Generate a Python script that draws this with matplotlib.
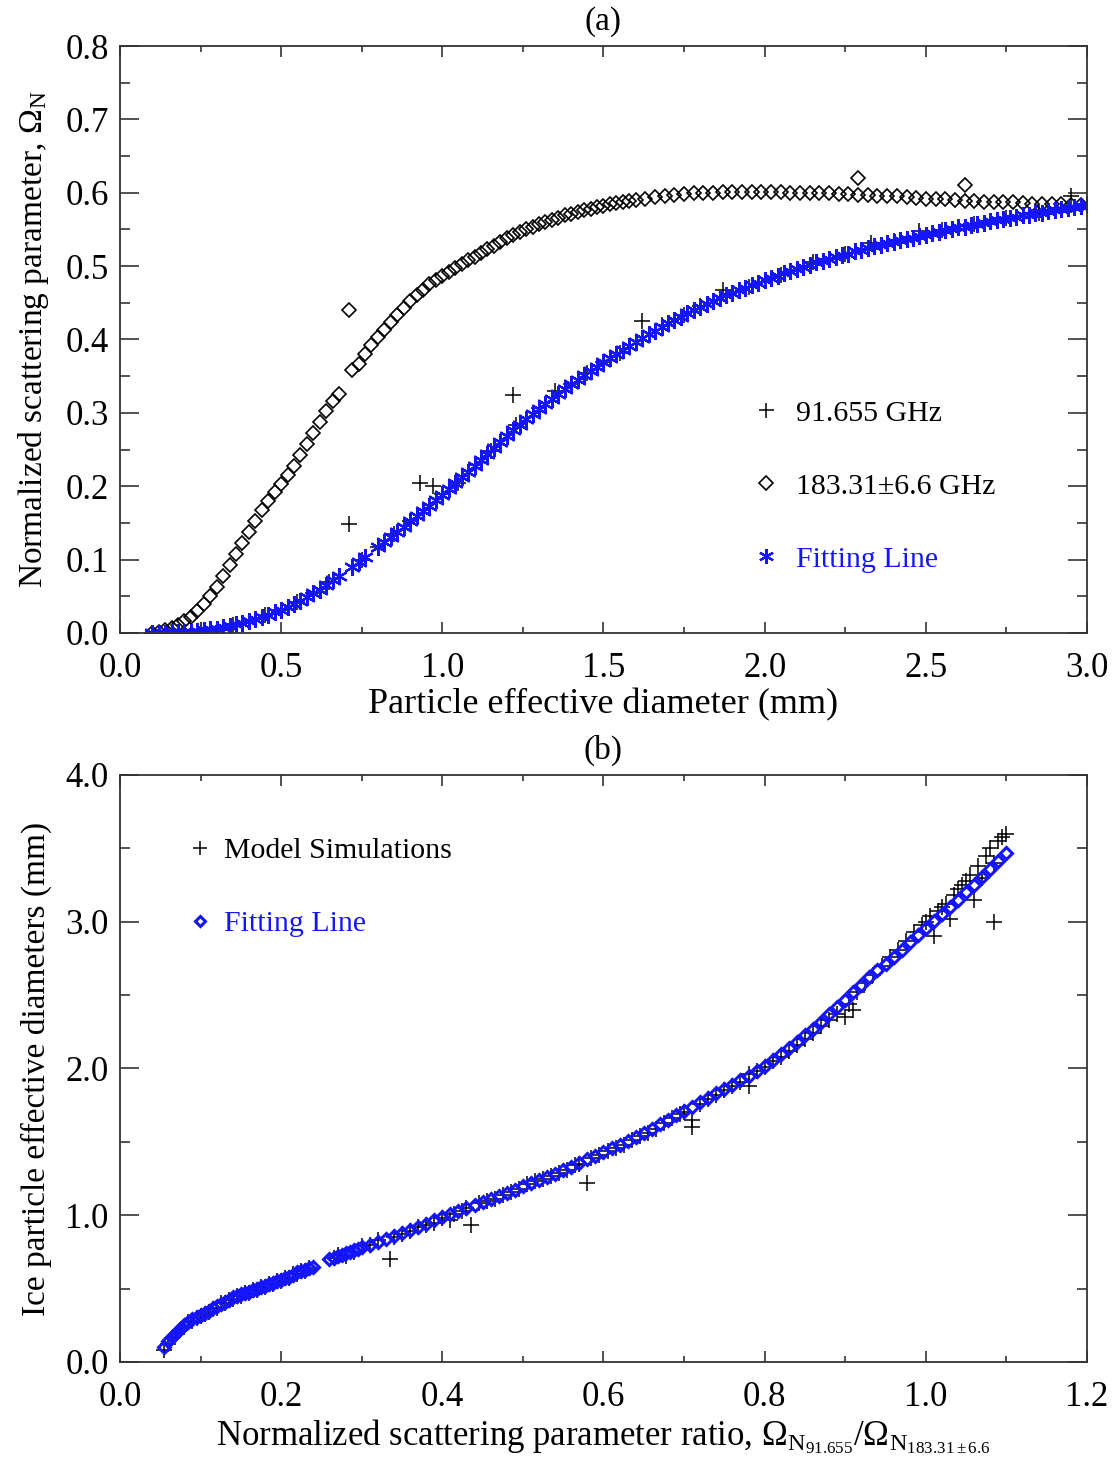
#!/usr/bin/env python3
"""Normalized scattering parameter vs particle size, and the size retrieval from the ratio."""

import matplotlib
matplotlib.use("Agg")
import matplotlib.pyplot as plt
from matplotlib.ticker import MultipleLocator

# (a) 183.31+-6.6 GHz, diamonds
d183_x = [0.10, 0.12, 0.14, 0.16, 0.18, 0.20, 0.22, 0.24, 0.26, 0.28, 0.30, 0.32, 0.34, 0.36,
          0.38, 0.40, 0.42, 0.44, 0.46, 0.48, 0.50, 0.52, 0.54, 0.56, 0.58, 0.60, 0.62, 0.64,
          0.66, 0.68, 0.72, 0.74, 0.76, 0.78, 0.80, 0.82, 0.84, 0.86, 0.88, 0.90, 0.92, 0.94,
          0.96, 0.98, 1.00, 1.02, 1.04, 1.06, 1.08, 1.10, 1.12, 1.14, 1.16, 1.18, 1.20, 1.22,
          1.24, 1.26, 1.28, 1.30, 1.32, 1.34, 1.36, 1.38, 1.40, 1.42, 1.44, 1.46, 1.48, 1.50,
          1.52, 1.54, 1.56, 1.58, 1.60, 1.63, 1.66, 1.69, 1.72, 1.75, 1.78, 1.81, 1.84, 1.87,
          1.90, 1.93, 1.96, 1.99, 2.02, 2.05, 2.08, 2.11, 2.14, 2.17, 2.20, 2.23, 2.26, 2.29,
          2.32, 2.35, 2.38, 2.41, 2.44, 2.47, 2.50, 2.53, 2.56, 2.59, 2.62, 2.65, 2.68, 2.71,
          2.74, 2.77, 2.80, 2.83, 2.86, 2.89, 2.92, 2.95, 2.98,
          0.71, 2.29, 2.62]
d183_y = [0.000, 0.002, 0.004, 0.007, 0.011, 0.016, 0.022, 0.030, 0.040, 0.051, 0.063, 0.077,
          0.092, 0.107, 0.122, 0.137, 0.152, 0.167, 0.180, 0.192, 0.203, 0.215, 0.228, 0.242,
          0.257, 0.273, 0.288, 0.303, 0.316, 0.326, 0.358, 0.366, 0.380, 0.392, 0.403, 0.413,
          0.424, 0.434, 0.443, 0.452, 0.461, 0.468, 0.475, 0.481, 0.487, 0.492, 0.497, 0.503,
          0.508, 0.513, 0.518, 0.523, 0.528, 0.533, 0.538, 0.542, 0.546, 0.550, 0.553, 0.557,
          0.560, 0.563, 0.566, 0.569, 0.571, 0.574, 0.576, 0.578, 0.580, 0.582, 0.584, 0.586,
          0.587, 0.589, 0.590, 0.592, 0.594, 0.596, 0.597, 0.598, 0.599, 0.600, 0.600, 0.601,
          0.601, 0.601, 0.601, 0.601, 0.601, 0.601, 0.600, 0.600, 0.600, 0.600, 0.599, 0.598,
          0.598, 0.597, 0.597, 0.596, 0.595, 0.595, 0.594, 0.593, 0.592, 0.592, 0.591, 0.590,
          0.589, 0.589, 0.588, 0.588, 0.587, 0.587, 0.586, 0.585, 0.585, 0.584, 0.584, 0.583,
          0.583,
          0.440, 0.620, 0.610]

# (a) 91.655 GHz model points, crosses
d91_x = [0.10, 0.15, 0.20, 0.25, 0.30, 0.35, 0.40, 0.45, 0.50, 0.55, 0.60, 0.65, 0.71, 0.75,
         0.80, 0.85, 0.90, 0.93, 0.97, 1.00, 1.05, 1.10, 1.15, 1.22, 1.23, 1.30, 1.35, 1.40,
         1.45, 1.50, 1.55, 1.62, 1.68, 1.75, 1.80, 1.87, 1.95, 2.05, 2.15, 2.25, 2.33, 2.40,
         2.48, 2.55, 2.65, 2.75, 2.85, 2.95]
d91_y = [0.000, 0.000, 0.002, 0.004, 0.006, 0.011, 0.017, 0.024, 0.032, 0.042, 0.054, 0.069,
         0.148, 0.100, 0.117, 0.135, 0.152, 0.205, 0.200, 0.189, 0.205, 0.229, 0.248, 0.325,
         0.283, 0.306, 0.330, 0.340, 0.355, 0.370, 0.382, 0.425, 0.420, 0.433, 0.445, 0.467,
         0.471, 0.488, 0.505, 0.517, 0.532, 0.534, 0.548, 0.549, 0.557, 0.566, 0.573, 0.595]

# (a) fitting line, blue asterisks
fit_a_x = [0.10, 0.12, 0.14, 0.16, 0.18, 0.20, 0.22, 0.24, 0.26, 0.28, 0.30, 0.32, 0.34, 0.36,
           0.38, 0.40, 0.42, 0.44, 0.46, 0.48, 0.50, 0.52, 0.54, 0.56, 0.58, 0.60, 0.62, 0.64,
           0.66, 0.68, 0.72, 0.74, 0.76, 0.80, 0.82, 0.84, 0.86, 0.88, 0.90, 0.92, 0.94, 0.96,
           0.98, 1.00, 1.02, 1.04, 1.06, 1.08, 1.10, 1.12, 1.14, 1.16, 1.18, 1.20, 1.22, 1.24,
           1.26, 1.28, 1.30, 1.32, 1.34, 1.36, 1.38, 1.40, 1.42, 1.44, 1.46, 1.48, 1.50, 1.52,
           1.54, 1.56, 1.58, 1.60, 1.62, 1.64, 1.66, 1.68, 1.70, 1.72, 1.74, 1.76, 1.78, 1.80,
           1.82, 1.84, 1.86, 1.88, 1.90, 1.92, 1.94, 1.96, 1.98, 2.00, 2.02, 2.04, 2.06, 2.08,
           2.10, 2.12, 2.14, 2.16, 2.18, 2.20, 2.22, 2.24, 2.26, 2.28, 2.30, 2.32, 2.34, 2.36,
           2.38, 2.40, 2.42, 2.44, 2.46, 2.48, 2.50, 2.52, 2.54, 2.56, 2.58, 2.60, 2.62, 2.64,
           2.66, 2.68, 2.70, 2.72, 2.74, 2.76, 2.78, 2.80, 2.82, 2.84, 2.86, 2.88, 2.90, 2.92,
           2.94, 2.96, 2.98, 3.00]
fit_a_y = [0.000, 0.000, 0.000, 0.001, 0.001, 0.002, 0.002, 0.003, 0.004, 0.005, 0.006, 0.008,
           0.010, 0.012, 0.014, 0.016, 0.019, 0.022, 0.025, 0.028, 0.032, 0.036, 0.040, 0.044,
           0.049, 0.054, 0.059, 0.065, 0.072, 0.078, 0.090, 0.097, 0.103, 0.117, 0.124, 0.131,
           0.138, 0.145, 0.152, 0.159, 0.166, 0.173, 0.181, 0.188, 0.196, 0.204, 0.212, 0.220,
           0.228, 0.236, 0.244, 0.252, 0.260, 0.268, 0.276, 0.284, 0.291, 0.298, 0.305, 0.312,
           0.319, 0.326, 0.332, 0.339, 0.345, 0.351, 0.357, 0.363, 0.369, 0.375, 0.380, 0.386,
           0.391, 0.397, 0.402, 0.407, 0.412, 0.417, 0.422, 0.427, 0.431, 0.436, 0.440, 0.444,
           0.448, 0.452, 0.456, 0.460, 0.463, 0.467, 0.470, 0.474, 0.477, 0.481, 0.484, 0.487,
           0.490, 0.493, 0.496, 0.499, 0.502, 0.505, 0.507, 0.510, 0.512, 0.515, 0.517, 0.520,
           0.522, 0.525, 0.527, 0.529, 0.531, 0.533, 0.535, 0.537, 0.539, 0.541, 0.543, 0.545,
           0.547, 0.549, 0.551, 0.553, 0.554, 0.556, 0.557, 0.559, 0.561, 0.563, 0.564, 0.566,
           0.567, 0.569, 0.570, 0.572, 0.573, 0.575, 0.576, 0.578, 0.579, 0.581, 0.582, 0.585]

# (b) model simulations, crosses
sim_x = [0.055, 0.060, 0.065, 0.070, 0.075, 0.080, 0.085, 0.090, 0.095, 0.100, 0.105, 0.110,
         0.115, 0.120, 0.125, 0.130, 0.135, 0.140, 0.145, 0.150, 0.155, 0.160, 0.165, 0.170,
         0.175, 0.180, 0.185, 0.190, 0.195, 0.200, 0.205, 0.210, 0.215, 0.220, 0.225, 0.230,
         0.235, 0.265, 0.270, 0.280, 0.290, 0.300, 0.310, 0.320, 0.335, 0.340, 0.350, 0.360,
         0.370, 0.380, 0.390, 0.400, 0.410, 0.415, 0.425, 0.430, 0.435, 0.445, 0.455, 0.465,
         0.475, 0.485, 0.495, 0.505, 0.515, 0.525, 0.535, 0.545, 0.555, 0.565, 0.570, 0.580,
         0.585, 0.595, 0.605, 0.615, 0.625, 0.635, 0.645, 0.655, 0.665, 0.675, 0.685, 0.695,
         0.700, 0.710, 0.710, 0.720, 0.730, 0.740, 0.750, 0.760, 0.770, 0.780, 0.780, 0.790,
         0.800, 0.810, 0.820, 0.830, 0.840, 0.850, 0.860, 0.870, 0.880, 0.890, 0.900, 0.905,
         0.910, 0.915, 0.925, 0.935, 0.945, 0.955, 0.965, 0.975, 0.985, 0.995, 1.000, 1.005,
         1.010, 1.015, 1.020, 1.025, 1.030, 1.035, 1.040, 1.045, 1.050, 1.055, 1.060, 1.065,
         1.070, 1.075, 1.080, 1.085, 1.085, 1.090, 1.095, 1.100]
sim_y = [0.08, 0.12, 0.16, 0.19, 0.22, 0.24, 0.27, 0.28, 0.30, 0.31, 0.33, 0.34,
         0.36, 0.37, 0.40, 0.40, 0.42, 0.43, 0.45, 0.45, 0.47, 0.47, 0.49, 0.49,
         0.51, 0.51, 0.53, 0.53, 0.55, 0.55, 0.57, 0.57, 0.60, 0.60, 0.62, 0.62,
         0.64, 0.71, 0.73, 0.72, 0.75, 0.79, 0.80, 0.83, 0.70, 0.85, 0.87, 0.89,
         0.92, 0.93, 0.95, 0.98, 0.97, 1.01, 1.03, 1.05, 0.93, 1.08, 1.10, 1.11,
         1.14, 1.16, 1.18, 1.21, 1.23, 1.25, 1.27, 1.29, 1.31, 1.34, 1.35, 1.22,
         1.39, 1.41, 1.44, 1.46, 1.48, 1.51, 1.54, 1.56, 1.59, 1.63, 1.66, 1.69,
         1.70, 1.65, 1.60, 1.76, 1.79, 1.82, 1.85, 1.88, 1.91, 1.88, 1.96, 1.98,
         2.01, 2.05, 2.08, 2.12, 2.16, 2.20, 2.24, 2.29, 2.33, 2.37, 2.35, 2.44,
         2.40, 2.52, 2.58, 2.64, 2.70, 2.76, 2.81, 2.87, 2.93, 2.98, 3.00, 3.04,
         2.90, 3.07, 3.10, 3.12, 3.02, 3.18, 3.22, 3.25, 3.28, 3.32, 3.15, 3.38,
         3.30, 3.45, 3.50, 3.40, 3.00, 3.55, 3.58, 3.60]

# (b) fitting line, blue diamonds
fit_b_x = [0.055, 0.060, 0.065, 0.070, 0.075, 0.080, 0.085, 0.090, 0.095, 0.100, 0.105, 0.110,
           0.115, 0.120, 0.125, 0.130, 0.135, 0.140, 0.145, 0.150, 0.155, 0.160, 0.165, 0.170,
           0.175, 0.180, 0.185, 0.190, 0.195, 0.200, 0.205, 0.210, 0.215, 0.220, 0.225, 0.230,
           0.235, 0.240, 0.260, 0.265, 0.270, 0.275, 0.280, 0.285, 0.290, 0.295, 0.300, 0.310,
           0.320, 0.330, 0.340, 0.350, 0.360, 0.370, 0.380, 0.390, 0.400, 0.410, 0.420, 0.430,
           0.440, 0.450, 0.460, 0.470, 0.480, 0.490, 0.500, 0.510, 0.520, 0.530, 0.540, 0.550,
           0.560, 0.570, 0.580, 0.590, 0.600, 0.610, 0.620, 0.630, 0.640, 0.650, 0.660, 0.670,
           0.680, 0.690, 0.700, 0.710, 0.720, 0.730, 0.740, 0.750, 0.760, 0.770, 0.780, 0.790,
           0.800, 0.810, 0.820, 0.830, 0.840, 0.850, 0.860, 0.870, 0.880, 0.890, 0.900, 0.910,
           0.920, 0.930, 0.940, 0.950, 0.960, 0.970, 0.980, 0.990, 1.000, 1.010, 1.020, 1.030,
           1.040, 1.050, 1.060, 1.070, 1.080, 1.090, 1.100]
fit_b_y = [0.10, 0.14, 0.17, 0.20, 0.225, 0.25, 0.27, 0.29, 0.305, 0.32, 0.335, 0.35,
           0.365, 0.38, 0.395, 0.41, 0.425, 0.44, 0.45, 0.46, 0.47, 0.48, 0.49, 0.50,
           0.51, 0.52, 0.53, 0.54, 0.55, 0.56, 0.57, 0.58, 0.595, 0.61, 0.62, 0.63,
           0.64, 0.65, 0.70, 0.71, 0.72, 0.73, 0.74, 0.75, 0.76, 0.77, 0.78, 0.80,
           0.82, 0.84, 0.86, 0.88, 0.90, 0.92, 0.94, 0.965, 0.99, 1.01, 1.03, 1.05,
           1.07, 1.09, 1.11, 1.13, 1.15, 1.175, 1.20, 1.22, 1.24, 1.26, 1.28, 1.305,
           1.33, 1.355, 1.38, 1.405, 1.43, 1.455, 1.48, 1.505, 1.53, 1.56, 1.59, 1.62,
           1.65, 1.68, 1.71, 1.74, 1.77, 1.80, 1.83, 1.86, 1.89, 1.92, 1.95, 1.985,
           2.02, 2.06, 2.10, 2.14, 2.18, 2.225, 2.27, 2.32, 2.37, 2.42, 2.47, 2.52,
           2.57, 2.62, 2.67, 2.715, 2.76, 2.81, 2.86, 2.91, 2.96, 3.005, 3.05, 3.10,
           3.15, 3.20, 3.25, 3.305, 3.36, 3.415, 3.47]

BLUE = "#1414ff"
AXIS_GRAY = "#333333"

plt.rcParams["font.family"] = ["Liberation Serif", "DejaVu Serif"]
plt.rcParams["mathtext.fontset"] = "custom"
plt.rcParams["mathtext.rm"] = "Liberation Serif"
plt.rcParams["mathtext.it"] = "Liberation Serif:italic"


def style_axes(ax, xmaj, xmin, ymaj, ymin):
    ax.xaxis.set_major_locator(MultipleLocator(xmaj))
    ax.xaxis.set_minor_locator(MultipleLocator(xmin))
    ax.yaxis.set_major_locator(MultipleLocator(ymaj))
    ax.yaxis.set_minor_locator(MultipleLocator(ymin))
    ax.xaxis.set_major_formatter(lambda v, p: f"{v:.1f}")
    ax.yaxis.set_major_formatter(lambda v, p: f"{v:.1f}")
    ax.tick_params(axis="both", which="both", direction="in", top=True, right=True,
                   color=AXIS_GRAY, width=1.2, labelsize=25)
    ax.tick_params(axis="x", which="major", length=8, pad=14)
    ax.tick_params(axis="x", which="minor", length=4)
    ax.tick_params(axis="y", which="major", length=14, pad=8)
    ax.tick_params(axis="y", which="minor", length=7)
    for sp in ax.spines.values():
        sp.set_color(AXIS_GRAY)
        sp.set_linewidth(1.3)


fig = plt.figure(figsize=(11.18, 14.70), dpi=100)
ax_a = fig.add_axes([0.1073, 0.5694, 0.8650, 0.3993])
ax_b = fig.add_axes([0.1073, 0.0735, 0.8650, 0.3993])

# panel (a)
ax_a.plot(d91_x, d91_y, ls="none", marker="+", ms=12, mew=1.1, color="black",
          label="91.655 GHz")
ax_a.plot(d183_x, d183_y, ls="none", marker="D", ms=7.5, mew=1.2, mfc="none", mec="black",
          label="183.31\u00b16.6 GHz")
ax_a.plot(fit_a_x, fit_a_y, ls="none", marker=(6, 2, 0), ms=12, mew=1.6, color=BLUE,
          label="Fitting Line")
ax_a.set_xlim(0, 3.0)
ax_a.set_ylim(0, 0.8)
style_axes(ax_a, 0.5, 0.25, 0.1, 0.05)
ax_a.set_xlabel("Particle effective diameter (mm)", fontsize=26, labelpad=2)
ax_a.set_ylabel(r"Normalized scattering parameter, $\Omega_{\mathrm{N}}$", fontsize=24,
                labelpad=10)
ax_a.set_title("(a)", fontsize=24, pad=12)
ax_a.legend(loc="center left", bbox_to_anchor=(0.625, 0.25), frameon=False, fontsize=21.5,
            handlelength=1.0, handletextpad=0.5, labelspacing=1.55, markerscale=0.9,
            labelcolor=["black", "black", BLUE])

# panel (b)
ax_b.plot(sim_x, sim_y, ls="none", marker="+", ms=12, mew=1.1, color="black",
          label="Model Simulations")
ax_b.plot(fit_b_x, fit_b_y, ls="none", marker="D", ms=6, mew=2.2, mfc="none", mec=BLUE,
          label="Fitting Line")
ax_b.set_xlim(0, 1.2)
ax_b.set_ylim(0, 4.0)
style_axes(ax_b, 0.2, 0.1, 1.0, 0.5)
ax_b.set_xlabel(r"Normalized scattering parameter ratio, "
                r"$\Omega_{\mathrm{N}_{91.655}}/\Omega_{\mathrm{N}_{183.31\pm6.6}}$",
                fontsize=25, labelpad=2)
ax_b.set_ylabel("Ice particle effective diameters (mm)", fontsize=24, labelpad=10)
ax_b.set_title("(b)", fontsize=24, pad=12)
ax_b.legend(loc="upper left", bbox_to_anchor=(0.04, 0.94), frameon=False, fontsize=21.5,
            handlelength=1.0, handletextpad=0.3, labelspacing=1.55, markerscale=0.8,
            labelcolor=["black", BLUE])

fig.savefig("out.png", dpi=100)
